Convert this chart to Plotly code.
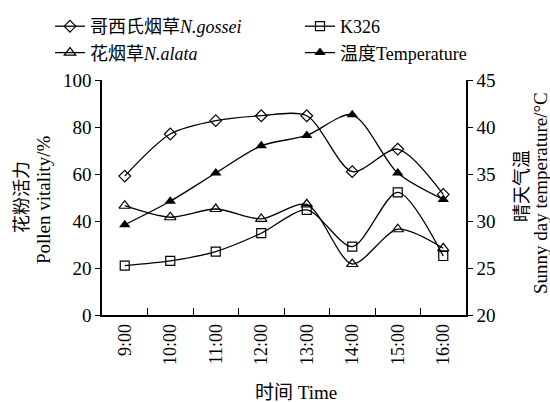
import plotly.graph_objects as go

times = ["9:00", "10:00", "11:00", "12:00", "13:00", "14:00", "15:00", "16:00"]
gossei = [59.1, 77.0, 82.7, 84.8, 84.8, 61.0, 70.6, 51.3]
k326 = [21.0, 23.0, 27.0, 34.8, 44.7, 29.1, 52.2, 25.1]
alata = [46.5, 41.6, 45.1, 40.9, 47.1, 21.7, 36.5, 28.4]
temperature = [29.6, 32.1, 35.1, 38.0, 39.1, 41.3, 35.1, 32.3]

FONT = "Liberation Serif, Times New Roman, Noto Sans CJK SC, serif"
line = dict(color="black", width=1.3, shape="spline", smoothing=0.8)

# plot area in pixels
L, R, T, B = 102, 466, 80, 315
W, H = 550, 402
def px(xp):
    return (xp - L) / (R - L)
def py(yp):
    return (B - yp) / (B - T)

fig = go.Figure()
fig.add_trace(go.Scatter(x=times, y=gossei, name="哥西氏烟草<i>N.gossei</i>", mode="lines+markers",
                         legend="legend", line=line,
                         marker=dict(symbol="diamond-open", size=9, color="black", line=dict(width=1.2))))
fig.add_trace(go.Scatter(x=times, y=alata, name="花烟草<i>N.alata</i>", mode="lines+markers",
                         legend="legend", line=line,
                         marker=dict(symbol="triangle-up-open", size=10, color="black", line=dict(width=1.2))))
fig.add_trace(go.Scatter(x=times, y=k326, name="K326", mode="lines+markers",
                         legend="legend2", line=line,
                         marker=dict(symbol="square-open", size=9, color="black", line=dict(width=1.2))))
fig.add_trace(go.Scatter(x=times, y=temperature, name="温度Temperature", mode="lines+markers", yaxis="y2",
                         legend="legend2", line=line,
                         marker=dict(symbol="triangle-up", size=10, color="black")))

legend_common = dict(orientation="v", xanchor="left", yanchor="top", y=py(8),
                     itemwidth=30, font=dict(size=18), bgcolor="rgba(0,0,0,0)", tracegroupgap=0)

fig.update_layout(
    width=W, height=H,
    margin=dict(l=L, r=W - R, t=T, b=H - B, autoexpand=False),
    paper_bgcolor="white", plot_bgcolor="white",
    font=dict(family=FONT, size=17, color="black"),
    showlegend=True,
    legend=dict(x=px(50), **legend_common),
    legend2=dict(x=px(300), **legend_common),
    xaxis=dict(type="category", range=[-0.5, 7.5], tickson="boundaries", ticks="inside", ticklen=7,
               tickcolor="black", showline=True, linecolor="black", linewidth=1.5, showgrid=False,
               tickangle=-90, zeroline=False, tickfont=dict(size=18)),
    yaxis=dict(range=[0, 100], dtick=20, ticks="outside", ticklen=5, tickcolor="black",
               showline=True, linecolor="black", linewidth=1.5, showgrid=False, zeroline=False,
               tickfont=dict(size=19)),
    yaxis2=dict(range=[20, 45], dtick=5, overlaying="y", side="right", ticks="outside", ticklen=5,
                tickcolor="black", showline=True, linecolor="black", linewidth=1.5, showgrid=False,
                zeroline=False, tickfont=dict(size=19)),
)

titles = [
    ("花粉活力", 22, 197, 18),
    ("Pollen vitality/%", 43, 200, 19),
    ("晴天气温", 522, 186, 18),
    ("Sunny day temperature/°C", 540, 193, 19),
]
for text, xp, yp, size in titles:
    fig.add_annotation(text=text, xref="paper", yref="paper", x=px(xp), y=py(yp),
                       xanchor="center", yanchor="middle", textangle=-90, showarrow=False,
                       font=dict(size=size))
fig.add_annotation(text="时间 Time", xref="paper", yref="paper", x=px(296), y=py(392),
                   xanchor="center", yanchor="middle", showarrow=False, font=dict(size=19))

fig.write_html("out.html", config={"displayModeBar": False},
               post_script="document.body.style.margin='0';document.body.style.overflow='hidden';")
